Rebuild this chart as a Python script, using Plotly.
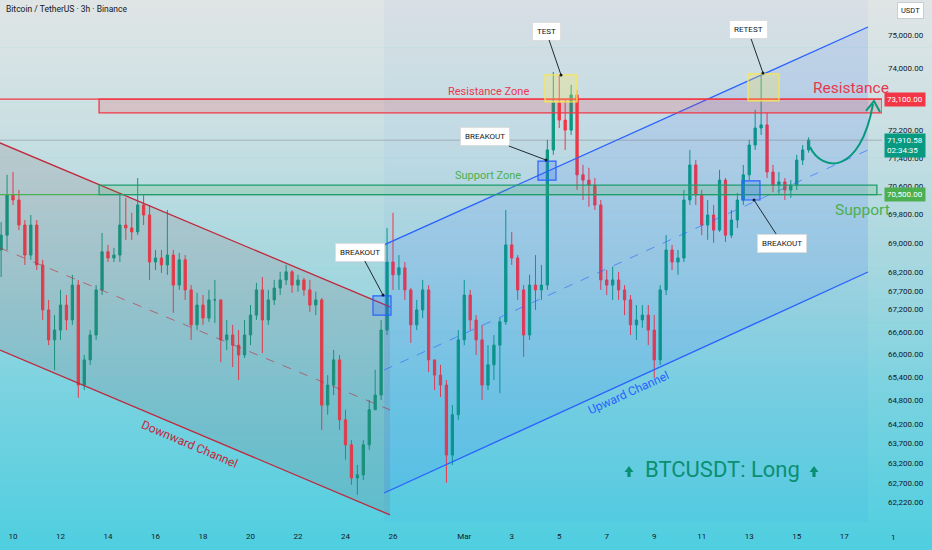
import numpy as np
import pandas as pd
import plotly.graph_objects as go

# ---------------- data ----------------
TITLE = "Bitcoin / TetherUS · 3h · Binance"
START = "2025-02-09 12:00"
FREQ = "6h"
OPEN0 = 68820
CLOSE = [69230, 70350, 70210, 69510, 68680, 69510, 68410, 67190, 66390, 66650,
         67320, 66920, 67860, 65200, 65860, 66520, 67730, 68770, 68600, 68680,
         69510, 69430, 69320, 70070, 69790, 68490, 68600, 68410, 68680, 67860,
         68550, 67730, 66790, 67320, 66970, 67460, 67460, 66390, 66520, 66250,
         65990, 66520, 67050, 67730, 66920, 67460, 67780, 68000, 68220, 67860,
         68000, 67730, 67320, 67460, 64680, 65200, 65860, 64300, 63660, 62820,
         62900, 63660, 64560, 64940, 66650, 68490, 68140, 68330, 67730, 66790,
         67190, 67730, 65860, 65460, 65200, 63400, 64430, 66390, 67590, 66920,
         66390, 65200, 65730, 66250, 66870, 68960, 68600, 67730, 66520, 67860,
         67730, 67860, 71630, 72990, 72490, 72200, 73220, 70920, 70770, 70630,
         70070, 68000, 67860, 68000, 67730, 67460, 66790, 66920, 67050, 66650,
         65860, 67730, 68820, 68490, 68600, 70210, 71200, 70350, 69510, 69790,
         69370, 70770, 69230, 69650, 70210, 70920, 71770, 72260, 72350, 71000,
         70630, 70720, 70490, 70630, 71340, 71630, 71910]
HIGH = [69590, 70920, 71000, 70490, 69650, 69790, 69650, 68550, 67460, 67050,
        67730, 67590, 68140, 68000, 65990, 66650, 67860, 69290, 68960, 68880,
        70410, 70270, 69850, 70830, 70350, 70070, 68820, 68820, 69930, 68820,
        68740, 68680, 67860, 67650, 67590, 67730, 68000, 67460, 66920, 66790,
        66650, 66920, 67320, 67920, 68080, 67730, 68000, 68220, 68410, 68270,
        68140, 68060, 68000, 67680, 67510, 65460, 66120, 65990, 64560, 63780,
        63150, 63780, 64810, 65600, 66920, 69430, 69850, 68680, 68490, 67780,
        67460, 68000, 67860, 65860, 65730, 65330, 64680, 66650, 68000, 67730,
        67050, 66790, 66250, 66520, 66970, 69930, 69320, 68680, 67860, 68140,
        68680, 68410, 71920, 73900, 73810, 73080, 73520, 73370, 71200, 71120,
        70830, 70210, 68270, 68360, 68220, 67860, 67590, 67320, 67320, 67320,
        67050, 67860, 69230, 68960, 68820, 70490, 71630, 71340, 70490, 70210,
        70070, 71060, 70830, 69930, 70410, 71200, 71920, 72790, 73870, 72700,
        71200, 71000, 70830, 70770, 71490, 71770, 71990]
LOW = [68080, 68820, 70070, 69370, 68410, 68550, 68270, 66920, 66250, 65590,
       66390, 66650, 66790, 64870, 65070, 65730, 66390, 67590, 68490, 68490,
       68490, 69100, 69100, 69230, 69510, 68000, 68270, 68190, 68140, 67110,
       67730, 67460, 66390, 66650, 66790, 66870, 66840, 65800, 66120, 65670,
       65330, 65910, 66250, 66920, 66040, 66790, 67320, 67590, 67860, 67650,
       67680, 67570, 67140, 67050, 64040, 64430, 64940, 64040, 63280, 62650,
       62400, 62770, 63530, 64560, 64810, 66520, 67730, 67730, 67460, 66310,
       66650, 66970, 65540, 65070, 64890, 62700, 63150, 64300, 66250, 66650,
       65990, 64810, 65070, 65330, 64990, 66790, 68410, 67460, 65940, 66390,
       67190, 67460, 67730, 71490, 72260, 71630, 72060, 70490, 70210, 70020,
       69930, 67730, 67590, 67460, 67460, 67050, 66520, 66390, 66710, 66250,
       65390, 65730, 67590, 68270, 68140, 68490, 70070, 70070, 69230, 69100,
       69020, 69320, 69040, 69150, 69430, 70070, 70770, 71630, 72060, 70830,
       70430, 70350, 70210, 70270, 70490, 71200, 71550]

Y_TICKS = [75000, 74000, 72200, 71400, 70600, 69800, 69000, 68200, 67700, 67200,
           66600, 66000, 65400, 64800, 64200, 63700, 63200, 62700, 62220]
X_TICKS = ["2025-02-10", "2025-02-12", "2025-02-14", "2025-02-16", "2025-02-18",
           "2025-02-20", "2025-02-22", "2025-02-24", "2025-02-26", "2025-03-01",
           "2025-03-03", "2025-03-05", "2025-03-07", "2025-03-09", "2025-03-11",
           "2025-03-13", "2025-03-15", "2025-03-17"]
X_TICKTEXT = ["10", "12", "14", "16", "18", "20", "22", "24", "26", "Mar",
              "3", "5", "7", "9", "11", "13", "15", "17"]

# drawings (time, price anchors)
DOWN_T = ["2025-02-09 10:52", "2025-02-25 21:00"]
DOWN_UPPER = [71830, 67270]
DOWN_MID = [68875, 64555]
DOWN_LOWER = [66120, 61900]
UP_T = ["2025-02-25 15:00", "2025-03-18 00:00"]
UP_UPPER = [68960, 75240]
UP_MID = [65594, 71628]
UP_LOWER = [62445, 68216]

RESIST = (72700, 73100)
SUPPORT = (70360, 70630)
SUPPORT_TAG = "70,500.00"
RESIST_TAG = "73,100.00"
LAST_PRICE_TAG = 71910.58
ZONE_START = "2025-02-13 15:00"
SUPPORT_END = "2025-03-18 09:00"
LAST_TIME_LEFT = "02:34:35"

BLUE_BOXES = [("2025-02-25 03:47", "2025-02-25 21:59", 67050, 67570),
              ("2025-03-04 02:31", "2025-03-04 20:43", 70770, 71310),
              ("2025-03-12 16:41", "2025-03-13 10:52", 70210, 70750)]
YELLOW_BOXES = [("2025-03-04 09:36", "2025-03-05 17:56", 73020, 73810),
                ("2025-03-12 22:44", "2025-03-14 06:04", 73050, 73840)]

X_RANGE = ["2025-02-09 10:52", "2025-03-18 14:10"]
Y_RANGE = [61725, 76057]

# ---------------- layout helpers ----------------
W, H = 932, 550
PW, PH = 882, 522


def xp(px):
    return px / PW


def yp(py):
    return 1 - py / PH


times = pd.date_range(START, periods=len(CLOSE), freq=FREQ)
opens = [OPEN0] + CLOSE[:-1]
highs = [max(h, o, c) for h, o, c in zip(HIGH, opens, CLOSE)]
lows = [min(l, o, c) for l, o, c in zip(LOW, opens, CLOSE)]

UPC, DNC = "#089981", "#f23645"
RED, GREEN, BLUE = "#e8384f", "#4caf50", "#2962ff"
CH_RED = "#c0283c"
FONT = "Roboto"

fig = go.Figure()

# channel fills (below candles)
fig.add_trace(go.Scatter(
    x=[DOWN_T[0], DOWN_T[1], DOWN_T[1], DOWN_T[0]],
    y=[DOWN_UPPER[0], DOWN_UPPER[1], DOWN_LOWER[1], DOWN_LOWER[0]],
    fill="toself", fillcolor="rgba(130,95,100,0.16)", mode="none",
    hoverinfo="skip"))
fig.add_trace(go.Scatter(
    x=[UP_T[0], UP_T[1], UP_T[1], UP_T[0]],
    y=[UP_UPPER[0], UP_UPPER[1], UP_LOWER[1], UP_LOWER[0]],
    fill="toself", fillcolor="rgba(41,98,255,0.10)", mode="none",
    hoverinfo="skip"))

fig.add_trace(go.Candlestick(
    x=times, open=opens, high=highs, low=lows, close=CLOSE,
    increasing=dict(line=dict(color=UPC, width=1), fillcolor=UPC),
    decreasing=dict(line=dict(color=DNC, width=1), fillcolor=DNC),
    whiskerwidth=0, hoverinfo="skip"))

# channel lines
for ys, col, dash, w in [(DOWN_UPPER, CH_RED, "solid", 1.3), (DOWN_LOWER, CH_RED, "solid", 1.3),
                         (DOWN_MID, "rgba(192,40,60,0.6)", "dash", 1)]:
    fig.add_trace(go.Scatter(x=DOWN_T, y=ys, mode="lines",
                             line=dict(color=col, width=w, dash=dash), hoverinfo="skip"))
for ys, col, dash, w in [(UP_UPPER, BLUE, "solid", 1.3), (UP_LOWER, BLUE, "solid", 1.3),
                         (UP_MID, "rgba(41,98,255,0.6)", "dash", 1)]:
    fig.add_trace(go.Scatter(x=UP_T, y=ys, mode="lines",
                             line=dict(color=col, width=w, dash=dash), hoverinfo="skip"))

shapes = []
# background gradient
stops = [(0, (224, 229, 229)), (120, (203, 224, 227)), (260, (168, 215, 223)),
         (400, (120, 210, 224)), (550, (78, 207, 224))]


def grad(y):
    for (y0, c0), (y1, c1) in zip(stops[:-1], stops[1:]):
        if y0 <= y <= y1:
            t = (y - y0) / (y1 - y0)
            return tuple(int(round(a + (b - a) * t)) for a, b in zip(c0, c1))
    return stops[-1][1]


N = 70
for k in range(N):
    y0 = k * H / N
    y1 = (k + 1) * H / N + 0.6
    c = grad((y0 + y1) / 2)
    shapes.append(dict(type="rect", xref="paper", yref="paper", x0=0, x1=W / PW,
                       y0=yp(y1), y1=yp(y0), fillcolor="rgb(%d,%d,%d)" % c,
                       line=dict(width=0), layer="below"))
# faint full-height tint of upward channel period
shapes.append(dict(type="rect", xref="x", yref="paper", x0=UP_T[0], x1=UP_T[1], y0=0, y1=1,
                   fillcolor="rgba(41,98,255,0.035)", line=dict(width=0), layer="below"))

# current price line
shapes.append(dict(type="line", xref="paper", yref="y", x0=0, x1=1, y0=CLOSE[-1], y1=CLOSE[-1],
                   line=dict(color="rgba(110,120,130,0.45)", width=1), layer="above"))
# resistance zone
shapes.append(dict(type="line", xref="x", yref="y", x0=X_RANGE[0], x1=X_RANGE[1],
                   y0=RESIST[1], y1=RESIST[1], line=dict(color=DNC, width=1.3)))
shapes.append(dict(type="rect", xref="x", yref="y", x0=ZONE_START, x1=X_RANGE[1],
                   y0=RESIST[0], y1=RESIST[1], fillcolor="rgba(242,54,69,0.18)",
                   line=dict(color=DNC, width=1.3)))
# support zone
shapes.append(dict(type="line", xref="x", yref="y", x0=X_RANGE[0], x1=X_RANGE[1],
                   y0=SUPPORT[0], y1=SUPPORT[0], line=dict(color=GREEN, width=1.3)))
shapes.append(dict(type="rect", xref="x", yref="y", x0=ZONE_START, x1=SUPPORT_END,
                   y0=SUPPORT[0], y1=SUPPORT[1], fillcolor="rgba(76,175,80,0.18)",
                   line=dict(color="#1f9c70", width=1.3)))
for x0, x1, y0, y1 in BLUE_BOXES:
    shapes.append(dict(type="rect", xref="x", yref="y", x0=x0, x1=x1, y0=y0, y1=y1,
                       fillcolor="rgba(41,98,255,0.22)", line=dict(color=BLUE, width=1.2)))
for x0, x1, y0, y1 in YELLOW_BOXES:
    shapes.append(dict(type="rect", xref="x", yref="y", x0=x0, x1=x1, y0=y0, y1=y1,
                       fillcolor="rgba(255,235,90,0.28)", line=dict(color="rgba(250,230,80,0.95)", width=1.3)))


def path(pts, close=False):
    s = "M " + " L ".join("%.5f,%.5f" % (xp(a), yp(b)) for a, b in pts)
    return s + (" Z" if close else "")


# curved projection arrow
p0, p1, p2, p3 = (810, 147), (822, 172), (860, 176), (873, 104)
curve = "M %.5f,%.5f C %.5f,%.5f %.5f,%.5f %.5f,%.5f" % (
    xp(p0[0]), yp(p0[1]), xp(p1[0]), yp(p1[1]), xp(p2[0]), yp(p2[1]), xp(p3[0]), yp(p3[1]))
shapes.append(dict(type="path", xref="paper", yref="paper", path=curve,
                   line=dict(color=UPC, width=2)))
shapes.append(dict(type="path", xref="paper", yref="paper",
                   path=path([(866, 111), (874, 101), (880, 112)]),
                   line=dict(color=UPC, width=2)))
# up-arrow icons
for cx in (629, 814):
    shapes.append(dict(type="path", xref="paper", yref="paper",
                       path=path([(cx - 4.5, 472), (cx, 466), (cx + 4.5, 472), (cx + 1.6, 472),
                                  (cx + 1.6, 477), (cx - 1.6, 477), (cx - 1.6, 472)], close=True),
                       fillcolor="#0b8f72", line=dict(width=0)))

annotations = []
# callouts: (text, tip_x, tip_y, box_cx, box_cy)
callouts = [("BREAKOUT", 383, 295, 360, 252), ("BREAKOUT", 546, 160, 485, 137),
            ("TEST", 561, 75, 546, 31), ("RETEST", 763, 73, 748, 30),
            ("BREAKOUT", 754, 200, 782, 243)]
for txt, tx, ty, bx, by in callouts:
    annotations.append(dict(x=xp(tx), y=yp(ty), xref="paper", yref="paper", text=txt,
                            showarrow=True, arrowhead=0, arrowwidth=1, arrowcolor="#1e2a33",
                            ax=bx - tx, ay=by - ty, bgcolor="white", bordercolor="rgba(220,220,220,0.9)",
                            borderwidth=1, borderpad=4,
                            font=dict(family=FONT, size=8, color="#131722")))
    shapes.append(dict(type="circle", xref="paper", yref="paper", x0=xp(tx - 1.5), x1=xp(tx + 1.5),
                       y0=yp(ty + 1.5), y1=yp(ty - 1.5), fillcolor="#131722", line=dict(width=0)))

texts = [("Resistance Zone", 488, 92, RED, 11, 0), ("Support Zone", 488, 176, GREEN, 11, 0),
         ("Downward Channel", 189, 444, CH_RED, 12, 23), ("Upward Channel", 628, 393, BLUE, 12, -24.5),
         ("BTCUSDT: Long", 722, 469, "#0b8f72", 22, 0)]
for txt, cx, cy, col, sz, ang in texts:
    annotations.append(dict(x=xp(cx), y=yp(cy), xref="paper", yref="paper", text=txt,
                            showarrow=False, textangle=ang, xanchor="center", yanchor="middle",
                            font=dict(family=FONT, size=sz, color=col)))
# big side labels
for txt, lx, cy, col in [("Resistance", 811, 88, RED), ("Support", 833, 210, GREEN)]:
    annotations.append(dict(x=xp(lx), y=yp(cy), xref="paper", yref="paper", text=txt,
                            showarrow=False, xanchor="left", yanchor="middle",
                            font=dict(family=FONT, size=15.5, color=col)))

annotations.append(dict(x=xp(4), y=yp(9), xref="paper", yref="paper", text=TITLE,
                        showarrow=False, xanchor="left", yanchor="middle",
                        font=dict(family=FONT, size=8.5, color="#131722")))
annotations.append(dict(x=xp(910), y=yp(11), xref="paper", yref="paper", text="USDT",
                        showarrow=False, bgcolor="white", bordercolor="rgba(200,205,210,1)",
                        borderwidth=1, borderpad=3, xanchor="center", yanchor="middle",
                        font=dict(family=FONT, size=7.5, color="#131722")))
annotations.append(dict(x=xp(893), y=yp(537), xref="paper", yref="paper", text="1",
                        showarrow=False, xanchor="center", yanchor="middle",
                        font=dict(family=FONT, size=8, color="#131722")))
# price tags
annotations.append(dict(x=1, xshift=2, xanchor="left", yanchor="middle", xref="paper",
                        y=np.log10(RESIST[1]), yref="y",
                        text=RESIST_TAG, showarrow=False, bgcolor=DNC, borderpad=2,
                        font=dict(family=FONT, size=8, color="white")))
annotations.append(dict(x=1, xshift=2, xanchor="left", xref="paper", y=np.log10(CLOSE[-1]), yref="y",
                        yanchor="top", yshift=7,
                        text="{:,.2f}<br>{}".format(LAST_PRICE_TAG, LAST_TIME_LEFT), showarrow=False,
                        bgcolor=UPC, borderpad=2, align="left",
                        font=dict(family=FONT, size=8, color="white")))
annotations.append(dict(x=1, xshift=2, xanchor="left", yanchor="middle", xref="paper",
                        y=np.log10(SUPPORT[0]), yref="y",
                        text=SUPPORT_TAG, showarrow=False, bgcolor=GREEN, borderpad=2,
                        font=dict(family=FONT, size=8, color="white")))

fig.update_layout(
    width=W, height=H, margin=dict(l=0, r=W - PW, t=0, b=H - PH),
    paper_bgcolor="rgb(78,207,224)", plot_bgcolor="rgba(0,0,0,0)",
    showlegend=False, hovermode=False, boxgap=0.45,
    shapes=shapes, annotations=annotations,
    xaxis=dict(type="date", range=X_RANGE, tickvals=X_TICKS, ticktext=X_TICKTEXT,
               showgrid=False, zeroline=False, showline=False, ticks="",
               rangeslider=dict(visible=False), ticklabelstandoff=8,
               tickfont=dict(family=FONT, size=8, color="#131722")),
    yaxis=dict(type="log", range=[np.log10(Y_RANGE[0]), np.log10(Y_RANGE[1])], side="right",
               tickvals=Y_TICKS, ticktext=["{:,.2f}".format(v) for v in Y_TICKS],
               showgrid=False, zeroline=False, showline=False, ticks="", ticklabelstandoff=5,
               tickfont=dict(family=FONT, size=8, color="#131722")),
)

fig.write_html("out.html", config={"displayModeBar": False},
               post_script="document.body.style.margin='0px';document.body.style.overflow='hidden';")
